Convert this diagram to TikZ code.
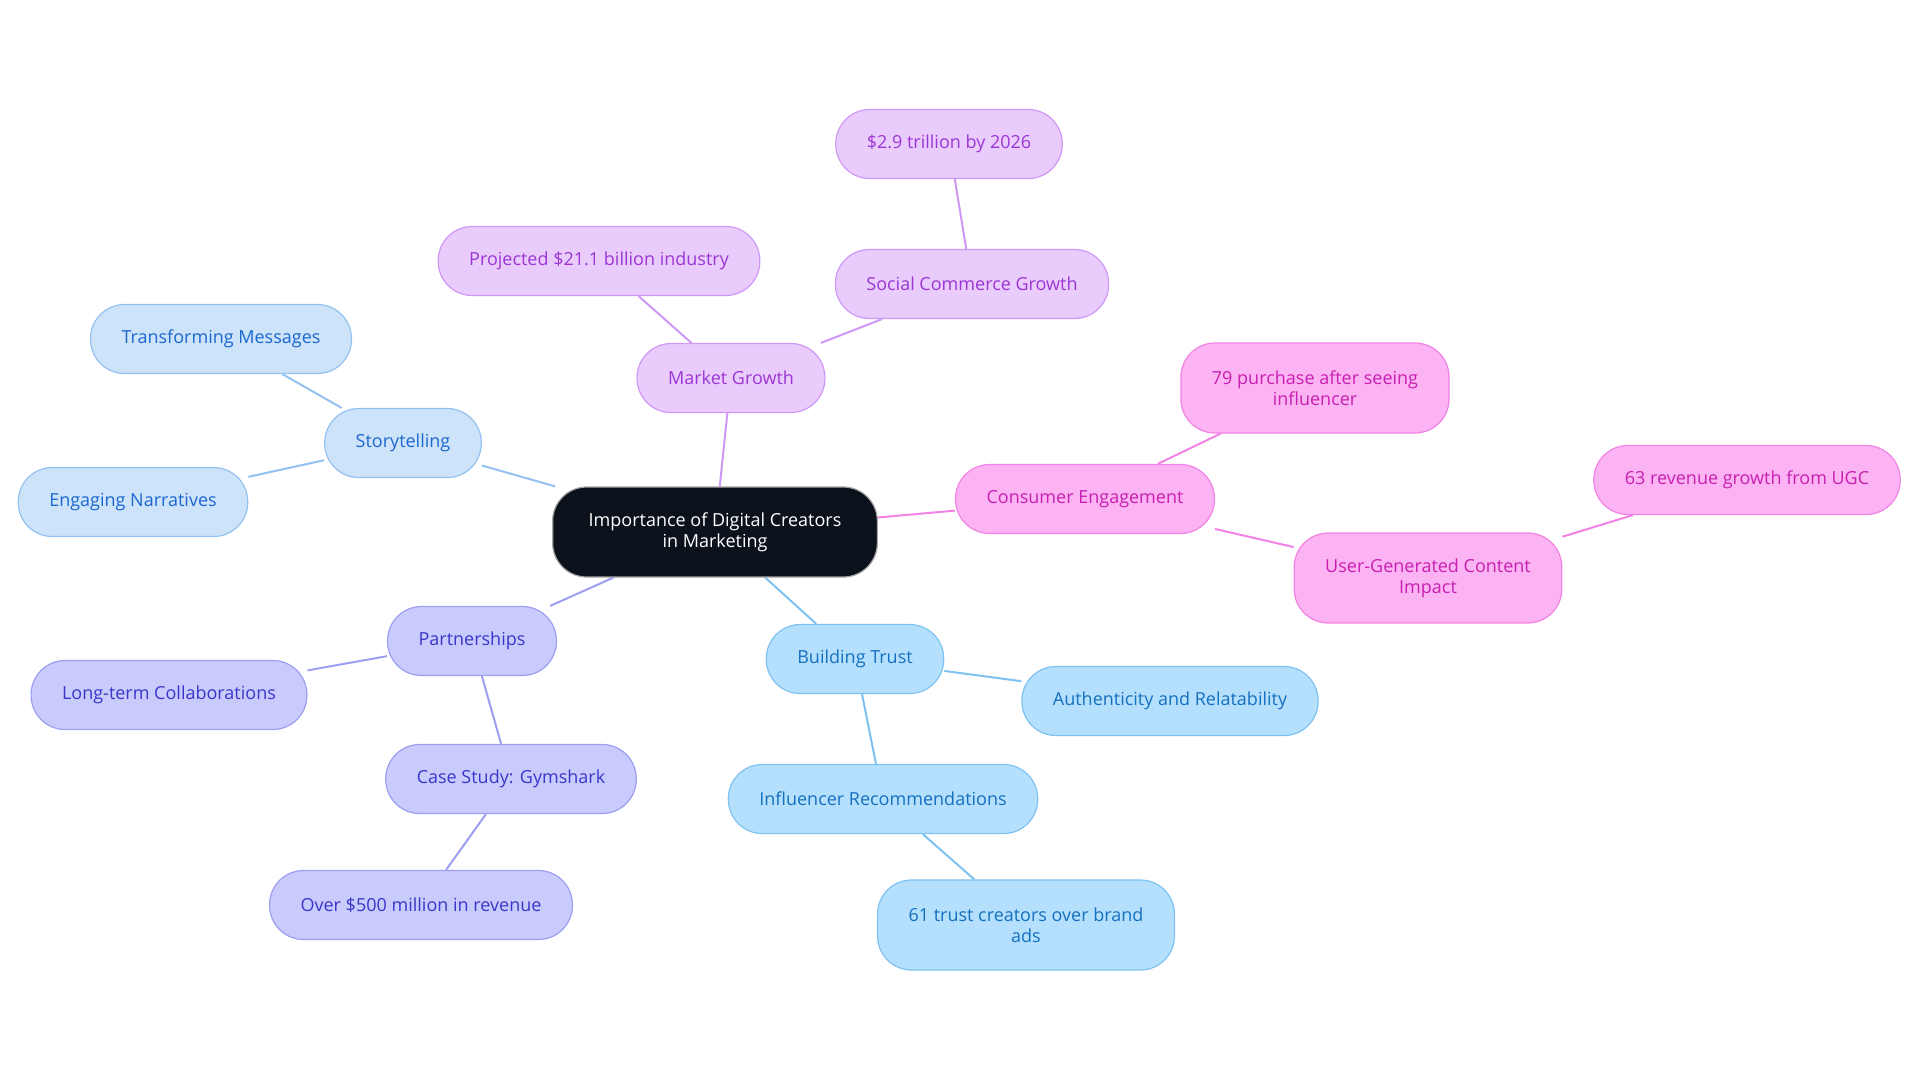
\documentclass[tikz,border=0pt]{standalone}
\usepackage{fontspec}
\setmainfont{Open Sans}
\definecolor{rootfill}{HTML}{0C121C}
\definecolor{storyfill}{HTML}{CDE3FA}
\definecolor{storydraw}{HTML}{93C2F2}
\definecolor{storytext}{HTML}{1C68D0}
\definecolor{marketfill}{HTML}{E9CCFC}
\definecolor{marketdraw}{HTML}{D098F6}
\definecolor{markettext}{HTML}{9B36D4}
\definecolor{consumerfill}{HTML}{FCB3F3}
\definecolor{consumerdraw}{HTML}{F283E4}
\definecolor{consumertext}{HTML}{C81FB0}
\definecolor{partnerfill}{HTML}{C9CBFC}
\definecolor{partnerdraw}{HTML}{9C9EF2}
\definecolor{partnertext}{HTML}{3B36C9}
\definecolor{trustfill}{HTML}{B5E0FD}
\definecolor{trustdraw}{HTML}{7EC2F2}
\definecolor{trusttext}{HTML}{1570BF}
\tikzset{
  idea/.style={rounded corners=17pt, draw, line width=0.6pt, inner xsep=15.5pt,
    minimum height=34.5pt, align=center, font=\fontsize{9}{10.5}\selectfont},
  twoline/.style={minimum height=45pt},
  rootidea/.style={idea, fill=rootfill, draw=gray!70, text=white, inner xsep=18pt, minimum height=45pt},
  story/.style={idea, fill=storyfill, draw=storydraw, text=storytext},
  market/.style={idea, fill=marketfill, draw=marketdraw, text=markettext},
  consumer/.style={idea, fill=consumerfill, draw=consumerdraw, text=consumertext},
  partner/.style={idea, fill=partnerfill, draw=partnerdraw, text=partnertext},
  trust/.style={idea, fill=trustfill, draw=trustdraw, text=trusttext},
  link/.style={line width=1pt}
}
\begin{document}
\begin{tikzpicture}[x=0.5pt, y=-0.5pt]
\useasboundingbox (0,0) rectangle (1920,1083);

%root
\node[rootidea] (root) at (715,532) {Importance of Digital Creators\\in Marketing};

%storytelling
\node[story] (story) at (403,443) {Storytelling};
\node[story] (transform) at (221,339) {Transforming Messages};
\node[story] (engaging) at (133,502) {Engaging Narratives};

%market growth
\node[market] (market) at (731,378) {Market Growth};
\node[market] (projected) at (599,261) {Projected \$21.1 billion industry};
\node[market] (social) at (972,284) {Social Commerce Growth};
\node[market] (trillion) at (949,144) {\$2.9 trillion by 2026};

%consumer engagement
\node[consumer] (consumer) at (1085,499) {Consumer Engagement};
\node[consumer, twoline] (purchase) at (1315,388) {79 purchase after seeing\\influencer};
\node[consumer, twoline] (ugc) at (1428,578) {User-Generated Content\\Impact};
\node[consumer] (revenue) at (1747,480) {63 revenue growth from UGC};

%partnerships
\node[partner] (partner) at (472,641) {Partnerships};
\node[partner] (longterm) at (169,695) {Long-term Collaborations};
\node[partner] (gymshark) at (511,779) {Case Study: Gymshark};
\node[partner] (million) at (421,905) {Over \$500 million in revenue};

%building trust
\node[trust] (trust) at (855,659) {Building Trust};
\node[trust] (authentic) at (1170,701) {Authenticity and Relatability};
\node[trust] (influencer) at (883,799) {Influencer Recommendations};
\node[trust, twoline] (brand) at (1026,925) {61 trust creators over brand\\ads};

%links
\draw[link, storydraw] (root) -- (story); \draw[link, storydraw] (story) -- (transform); \draw[link, storydraw] (story) -- (engaging);
\draw[link, marketdraw] (root) -- (market); \draw[link, marketdraw] (market) -- (projected); \draw[link, marketdraw] (market) -- (social); \draw[link, marketdraw] (social) -- (trillion);
\draw[link, consumerdraw] (root) -- (consumer); \draw[link, consumerdraw] (consumer) -- (purchase); \draw[link, consumerdraw] (consumer) -- (ugc); \draw[link, consumerdraw] (ugc) -- (revenue);
\draw[link, partnerdraw] (root) -- (partner); \draw[link, partnerdraw] (partner) -- (longterm); \draw[link, partnerdraw] (partner) -- (gymshark); \draw[link, partnerdraw] (gymshark) -- (million);
\draw[link, trustdraw] (root) -- (trust); \draw[link, trustdraw] (trust) -- (authentic); \draw[link, trustdraw] (trust) -- (influencer); \draw[link, trustdraw] (influencer) -- (brand);
\end{tikzpicture}
\end{document}
